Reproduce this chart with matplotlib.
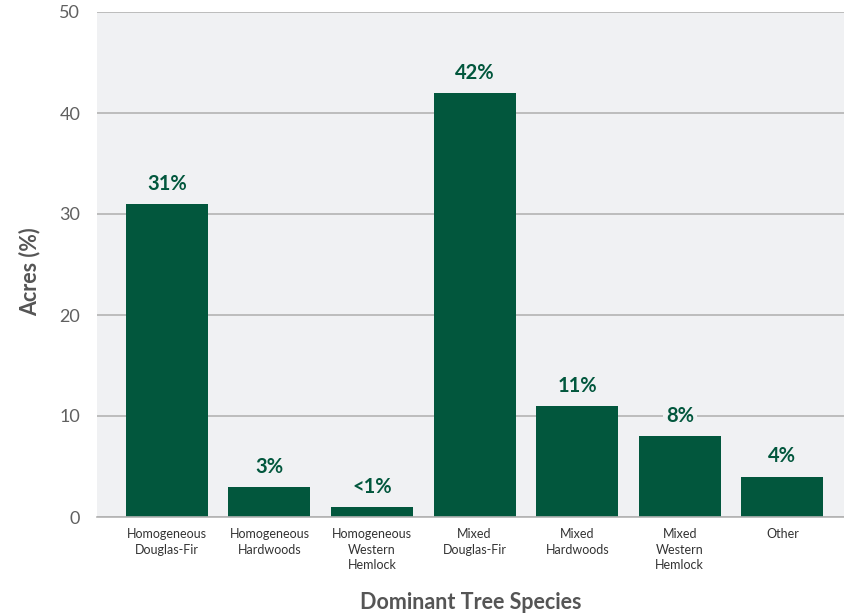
import numpy as np
import matplotlib.pyplot as plt

# data
categories = ['Homogeneous\nDouglas-Fir', 'Homogeneous\nHardwoods', 'Homogeneous\nWestern\nHemlock',
              'Mixed\nDouglas-Fir', 'Mixed\nHardwoods', 'Mixed\nWestern\nHemlock', 'Other']
acres_pct = [31, 3, 1, 42, 11, 8, 4]
bar_labels = ['31%', '3%', '<1%', '42%', '11%', '8%', '4%']
y_ticks = [0, 10, 20, 30, 40, 50]

green = '#02573d'
grey_txt = '#555555'
bg = '#f0f1f3'

plt.rcParams['font.family'] = ['Lato', 'DejaVu Sans']

fig = plt.figure(figsize=(8.45, 6.15), dpi=100)
ax = fig.add_axes([97/845, 98/615, 1 - 97/845, (517-12)/615])
ax.set_facecolor(bg)

x = np.arange(len(categories))
ax.bar(x, acres_pct, width=0.8, color=green, zorder=3)

for xi, v, lab in zip(x, acres_pct, bar_labels):
    ax.text(xi, v + 1.0, lab, ha='center', va='bottom', fontsize=14.5, fontweight='bold',
            color=green, zorder=4,
            bbox=dict(boxstyle='square,pad=0.15', fc=bg, ec='none'))

ax.set_ylim(0, 50)
ax.set_xlim(-0.68, 6.61)
ax.set_yticks(y_ticks)
ax.yaxis.grid(True, color='#b3b3b3', linewidth=1.2, zorder=1)
ax.set_axisbelow(True)
for s in ['top', 'right', 'left']:
    ax.spines[s].set_visible(False)
ax.spines['bottom'].set_color('#b3b3b3')
ax.spines['bottom'].set_linewidth(1.2)
ax.spines['bottom'].set_zorder(5)

ax.set_xticks(x)
ax.set_xticklabels(categories, fontsize=9, color='#333333', linespacing=1.35)
ax.tick_params(axis='x', length=0, pad=8)
ax.tick_params(axis='y', length=0, pad=12, labelsize=13, labelcolor='#606060')

ax.set_xlabel('Dominant Tree Species', fontsize=15.5, fontweight='bold', color=grey_txt, va='center')
ax.xaxis.set_label_coords(0.5, -0.170)
ax.set_ylabel('Acres (%)', fontsize=15.5, fontweight='bold', color=grey_txt, va='center')
ax.yaxis.set_label_coords(-0.09, 0.485)

fig.savefig('out.png', dpi=100)
